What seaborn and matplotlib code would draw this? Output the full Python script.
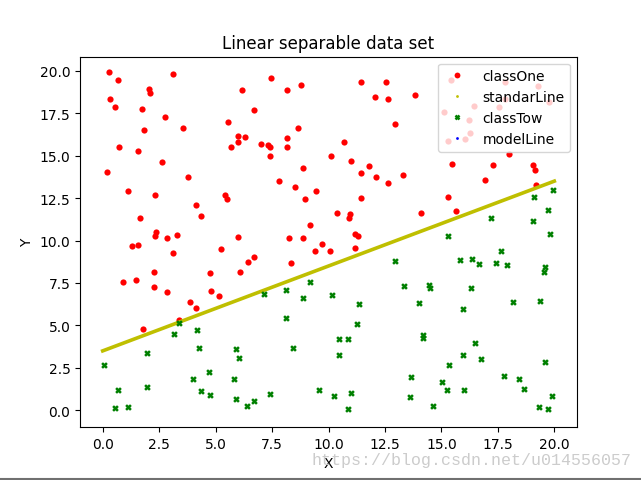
import matplotlib
matplotlib.use("Agg")
import matplotlib.pyplot as plt
from matplotlib.lines import Line2D
import seaborn as sns
import pandas as pd

# ---- data ----
class_one_x = [0.28, 0.68, 3.13, 2.06, 2.10, 6.19, 0.33, 0.55, 1.75, 2.77,
               5.57, 1.84, 3.57, 6.01, 6.32, 5.97, 5.70, 0.73, 1.57, 2.62,
               0.20, 3.79, 1.13, 2.33, 5.42, 5.52, 4.15, 4.37, 1.66, 2.37,
               3.30, 7.47, 8.18, 8.76, 11.42, 12.53, 12.05, 12.62, 6.68, 12.93,
               8.63, 8.18, 7.03, 7.30, 7.43, 8.18, 10.67, 7.39, 10.09, 10.98,
               11.78, 8.89, 11.42, 12.09, 13.29, 12.62, 7.79, 8.50, 9.43, 8.94,
               11.42, 10.36, 10.94, 10.89, 9.16, 11.16, 13.82, 17.99, 15.46, 17.28,
               19.06, 19.15, 16.93, 19.19, 15.29, 14.09, 15.64, 15.42, 19.28, 17.82,
               17.82, 19.77, 16.45, 17.56, 15.12, 16.22, 16.26, 16.04, 15.30, 2.33,
               2.86, 5.97, 1.30, 1.57, 3.13, 5.26, 6.45, 2.28, 0.91, 1.48,
               2.28, 2.86, 4.77, 6.10, 4.81, 5.17, 3.88, 4.15, 3.39, 1.79,
               8.27, 8.89, 9.69, 9.38, 10.05, 11.29, 11.16, 6.68, 8.32]
class_one_y = [19.91, 19.43, 19.79, 18.92, 18.72, 18.84, 18.36, 17.89, 17.77, 17.30,
               17.00, 16.53, 16.65, 16.17, 16.11, 15.82, 15.52, 15.52, 15.28, 14.63,
               14.04, 13.74, 12.91, 12.68, 12.70, 12.44, 12.09, 11.43, 11.32, 10.49,
               10.34, 19.55, 18.86, 19.14, 19.37, 19.37, 18.48, 18.36, 17.71, 16.88,
               16.65, 16.05, 15.70, 15.64, 15.52, 15.52, 15.82, 14.99, 14.99, 14.69,
               14.40, 14.28, 13.98, 13.74, 13.86, 13.39, 13.51, 13.15, 12.91, 12.44,
               12.50, 11.61, 11.55, 11.32, 10.90, 10.40, 18.60, 15.11, 14.51, 14.45,
               14.45, 14.16, 13.57, 13.27, 12.56, 11.61, 11.73, 19.47, 19.08, 19.37,
               18.36, 18.18, 17.95, 17.89, 17.57, 17.12, 16.35, 16.00, 15.89, 10.25,
               10.13, 10.19, 9.66, 9.72, 9.24, 9.48, 8.71, 8.12, 7.58, 7.70,
               7.29, 6.99, 8.06, 8.12, 7.05, 6.75, 6.40, 6.04, 5.33, 4.80,
               10.13, 10.13, 9.77, 9.36, 9.36, 10.25, 9.54, 9.06, 8.65]

class_tow_x = [3.39, 4.19, 3.17, 4.28, 1.97, 5.92, 6.05, 0.06, 4.72, 4.01,
               5.83, 0.68, 1.97, 4.37, 4.77, 5.92, 6.41, 0.55, 1.13, 12.93,
               13.33, 9.16, 7.16, 8.10, 8.85, 10.14, 11.34, 8.10, 11.25, 10.45,
               10.85, 8.41, 10.45, 13.64, 7.39, 9.56, 10.23, 10.98, 13.60, 6.72,
               10.85, 19.95, 19.10, 19.72, 17.19, 19.06, 19.81, 15.29, 17.64, 15.82,
               16.35, 16.66, 17.42, 17.90, 19.59, 19.55, 14.44, 14.49, 16.31, 14.00,
               15.95, 18.17, 19.37, 14.18, 14.18, 16.48, 15.95, 16.75, 15.33, 19.59,
               15.02, 17.77, 18.44, 15.24, 16.00, 18.66, 19.90, 14.62, 19.33, 19.72]
class_tow_y = [5.15, 4.74, 4.50, 3.67, 3.38, 3.61, 3.08, 2.67, 2.25, 1.84,
               1.84, 1.18, 1.36, 1.13, 0.89, 0.65, 0.24, 0.12, 0.18, 8.77,
               7.35, 7.58, 6.87, 7.11, 6.64, 6.81, 6.28, 5.45, 5.09, 4.21,
               4.21, 3.67, 3.26, 1.95, 0.95, 1.18, 0.83, 1.01, 0.77, 0.53,
               0.06, 12.97, 12.56, 11.79, 11.32, 11.14, 10.37, 10.25, 9.36, 8.83,
               8.89, 8.59, 8.65, 8.53, 8.47, 8.12, 7.41, 7.23, 7.23, 6.34,
               5.98, 6.40, 6.46, 4.44, 4.27, 3.97, 3.26, 3.02, 2.67, 2.84,
               1.66, 2.01, 1.84, 1.18, 1.18, 1.24, 0.83, 0.24, 0.18, 0.06]

standar_line_x = [0.0, 20.0]
standar_line_y = [3.5, 13.5]

tick_values = [0, 2.5, 5, 7.5, 10, 12.5, 15, 17.5, 20]
tick_labels = ["0.0", "2.5", "5.0", "7.5", "10.0", "12.5", "15.0", "17.5", "20.0"]
legend_labels = ["classOne", "standarLine", "classTow", "modelLine"]
title_text = "Linear separable data set"
watermark_text = "https://blog.csdn.net/u014556057"

df_one = pd.DataFrame({"X": class_one_x, "Y": class_one_y})
df_tow = pd.DataFrame({"X": class_tow_x, "Y": class_tow_y})
df_line = pd.DataFrame({"X": standar_line_x, "Y": standar_line_y})

fig, ax = plt.subplots(figsize=(6.41, 4.81), dpi=100)

sns.scatterplot(data=df_one, x="X", y="Y", color="r", s=20, linewidth=0, ax=ax, zorder=2)
sns.lineplot(data=df_line, x="X", y="Y", color="y", linewidth=2.6, ax=ax, zorder=3)
sns.scatterplot(data=df_tow, x="X", y="Y", color="g", marker="x", s=12, linewidth=1.8, ax=ax, zorder=4)

ax.set_xlim(-1.0, 21.0)
ax.set_ylim(-0.99, 20.83)
ax.set_xticks(tick_values)
ax.set_yticks(tick_values)
ax.set_xticklabels(tick_labels)
ax.set_yticklabels(tick_labels)
ax.set_xlabel("X")
ax.set_ylabel("Y")
ax.set_title(title_text, fontsize=12)

handles = [
    Line2D([], [], ls="none", marker="o", color="r", markersize=4.2, markeredgewidth=0),
    Line2D([], [], ls="none", marker="o", color="y", markersize=2.0, markeredgewidth=0),
    Line2D([], [], ls="none", marker="x", color="g", markersize=3.4, markeredgewidth=1.8),
    Line2D([], [], ls="none", marker="o", color="b", markersize=2.0, markeredgewidth=0),
]
ax.legend(handles, legend_labels, loc="upper right", fontsize=10)

fig.text(0.985, 0.027, watermark_text, ha="right", va="bottom",
         color="#cccccc", fontsize=12, family="Liberation Mono")

# thin screenshot border at the bottom of the image
fig.add_artist(Line2D([0, 1], [0.002, 0.002], transform=fig.transFigure,
                      color="#707070", linewidth=1.5))

fig.savefig("out.png", dpi=100)
